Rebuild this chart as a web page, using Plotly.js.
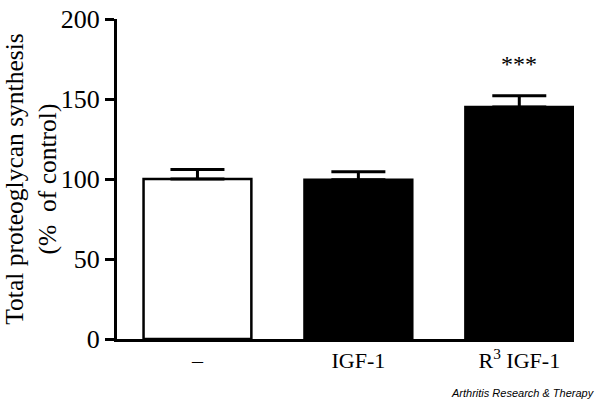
<!DOCTYPE html>
<html>
<head>
<meta charset="utf-8">
<script src="https://cdn.plot.ly/plotly-3.0.1.min.js"></script>
<style>
  html, body { margin: 0; padding: 0; background: #fff; }
  #chart { width: 600px; height: 400px; }
</style>
</head>
<body>
<div id="chart"></div>
<script>
// treatment groups and measured synthesis (% of control)
const groups = ['\u2013', 'IGF-1', 'R<sup>3</sup> IGF-1'];
const synthesis = [100, 99.5, 145];
const sem = [6, 5, 7];
const significance = ['', '', '***'];

const serif = 'Liberation Serif, Times New Roman, serif';

const barTrace = {
    x: groups,
    y: synthesis,
    type: 'bar',
    marker: {
        color: ['#ffffff', '#000000', '#000000'],
        line: { color: '#000000', width: 2.5 }
    },
    error_y: {
        type: 'data',
        symmetric: false,
        array: sem,
        arrayminus: sem.map(() => 0),
        color: '#000000',
        thickness: 3,
        width: 27
    },
    hoverinfo: 'none'
};

// stars above the error bars
const starNotes = groups
    .map((g, i) => ({ g, i }))
    .filter(d => significance[d.i])
    .map(d => ({
        x: d.g,
        y: synthesis[d.i] + sem[d.i] + 20,
        text: significance[d.i],
        showarrow: false,
        font: { family: serif, size: 24, color: '#000' }
    }));

const layout = {
    width: 600,
    height: 400,
    margin: { l: 117, r: 26, t: 19, b: 61 },
    paper_bgcolor: '#fff',
    plot_bgcolor: '#fff',
    showlegend: false,
    bargap: 0.33,
    xaxis: {
        type: 'category',
        range: [-0.5, 2.34],
        showline: true,
        linecolor: '#000',
        linewidth: 3,
        ticks: '',
        showgrid: false,
        zeroline: false,
        tickfont: { family: serif, size: 22, color: '#000' },
        fixedrange: true
    },
    yaxis: {
        range: [0, 200],
        tickvals: [0, 50, 100, 150, 200],
        showline: true,
        linecolor: '#000',
        linewidth: 3,
        ticks: 'outside',
        ticklen: 9,
        tickwidth: 3,
        tickcolor: '#000',
        showgrid: false,
        zeroline: false,
        tickfont: { family: serif, size: 26, color: '#000' },
        title: {
            text: 'Total proteoglycan synthesis<br>(%  of control)',
            font: { family: serif, size: 25.5, color: '#000' },
            standoff: 2
        },
        fixedrange: true
    },
    annotations: starNotes.concat([{
        xref: 'paper',
        yref: 'paper',
        x: 1.05,
        y: -0.17,
        xanchor: 'right',
        yanchor: 'middle',
        text: 'Arthritis Research &amp; Therapy',
        showarrow: false,
        font: { family: 'Liberation Sans, Arial, sans-serif', size: 11, color: '#000', style: 'italic' }
    }])
};

Plotly.newPlot('chart', [barTrace], layout, { displayModeBar: false, staticPlot: true });
</script>
</body>
</html>
